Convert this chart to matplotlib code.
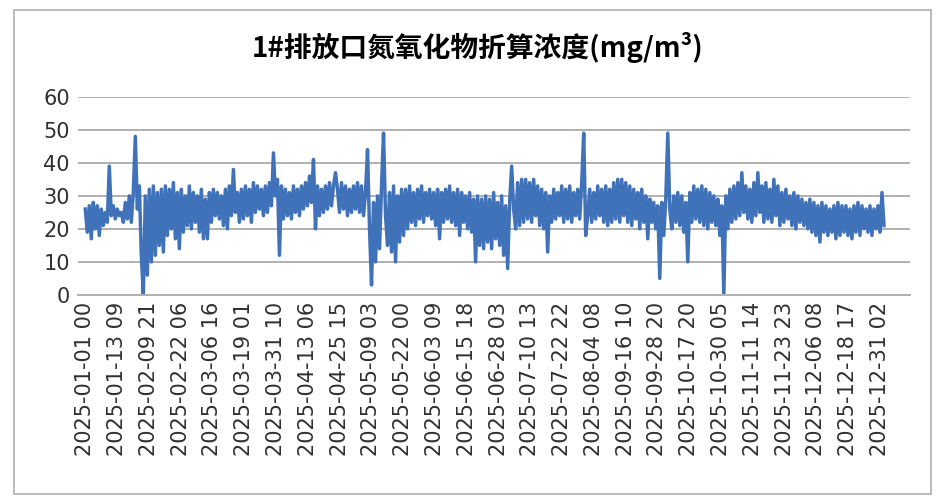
import matplotlib.pyplot as plt
from matplotlib.patches import Rectangle
import numpy as np

plt.rcParams['font.family'] = ['DejaVu Sans', 'Noto Sans CJK SC']

title = "1#排放口氮氧化物折算浓度(mg/m³)"

# hourly NOx readings (high/low swings of the dense trace)
nox = [
    26, 19, 27, 17, 28, 20, 27, 18, 26, 21, 25, 22, 39, 24, 27, 23, 26, 24, 25, 22,
    28, 23, 30, 22, 31, 48, 26, 33, 12, 0, 30, 6, 32, 10, 33, 12, 31, 15, 32, 13,
    33, 18, 32, 20, 34, 17, 31, 14, 32, 19, 30, 21, 33, 20, 31, 22, 30, 19, 32, 17,
    29, 17, 31, 22, 32, 24, 31, 23, 30, 21, 32, 20, 33, 24, 38, 25, 31, 22, 32, 23,
    33, 24, 32, 22, 34, 25, 33, 26, 32, 24, 33, 25, 34, 27, 43, 30, 35, 12, 33, 23,
    32, 24, 31, 23, 33, 25, 32, 24, 33, 26, 34, 27, 36, 28, 41, 20, 33, 24, 32, 25,
    33, 26, 34, 27, 33, 37, 32, 25, 34, 26, 33, 24, 32, 25, 33, 26, 34, 25, 33, 24,
    31, 44, 20, 3, 28, 10, 30, 14, 33, 49, 24, 15, 31, 13, 33, 10, 30, 16, 32, 18,
    32, 20, 33, 22, 31, 21, 32, 23, 33, 22, 31, 24, 32, 23, 31, 21, 32, 17, 31, 22,
    32, 23, 33, 22, 31, 21, 32, 18, 31, 22, 30, 20, 31, 19, 29, 10, 30, 15, 29, 14,
    30, 16, 29, 14, 31, 17, 28, 15, 30, 12, 27, 8, 28, 39, 26, 20, 34, 21, 35, 22,
    35, 23, 34, 22, 35, 24, 33, 21, 32, 20, 31, 13, 30, 22, 32, 23, 31, 24, 33, 22,
    32, 23, 33, 22, 31, 24, 32, 23, 34, 49, 18, 24, 32, 22, 31, 23, 33, 24, 32, 22,
    33, 21, 32, 22, 34, 23, 35, 22, 35, 24, 34, 22, 33, 21, 32, 23, 31, 20, 32, 22,
    30, 17, 29, 22, 28, 20, 27, 5, 28, 18, 29, 49, 26, 20, 30, 22, 31, 21, 30, 19,
    28, 10, 31, 22, 33, 23, 32, 22, 33, 21, 32, 20, 31, 22, 30, 21, 29, 18, 27, 0,
    30, 20, 32, 22, 33, 23, 34, 24, 37, 25, 33, 23, 32, 22, 34, 24, 37, 25, 33, 22,
    34, 23, 32, 22, 35, 24, 33, 21, 31, 22, 32, 23, 30, 21, 31, 20, 30, 22, 29, 21,
    28, 20, 29, 19, 28, 18, 27, 16, 28, 19, 27, 18, 26, 19, 27, 17, 28, 18, 27, 19,
    27, 18, 26, 17, 27, 19, 28, 18, 27, 20, 26, 19, 27, 18, 26, 20, 27, 19, 31, 21,
]

tick_labels = [
    "2025-01-01 00", "2025-01-13 09", "2025-02-09 21", "2025-02-22 06",
    "2025-03-06 16", "2025-03-19 01", "2025-03-31 10", "2025-04-13 06",
    "2025-04-25 15", "2025-05-09 03", "2025-05-22 00", "2025-06-03 09",
    "2025-06-15 18", "2025-06-28 03", "2025-07-10 13", "2025-07-22 22",
    "2025-08-04 08", "2025-09-16 10", "2025-09-28 20", "2025-10-17 20",
    "2025-10-30 05", "2025-11-11 14", "2025-11-23 23", "2025-12-06 08",
    "2025-12-18 17", "2025-12-31 02",
]

fig = plt.figure(figsize=(9.43, 4.99), dpi=100)
fig.patches.append(Rectangle((0.015, 0.01), 0.972, 0.97, transform=fig.transFigure,
                             fill=False, edgecolor='#b0b0b0', linewidth=1.2))

ax = fig.add_axes([0.083, 0.409, 0.882, 0.397])
x = np.arange(len(nox))
ax.plot(x, nox, color='#3f72b8', linewidth=2.5)

ax.set_ylim(0, 60)
ax.set_yticks(range(0, 61, 10))
ax.set_xlim(-3.5, len(nox) + 12)
ax.set_xticks(np.linspace(0, len(nox) - 3, len(tick_labels)))
ax.set_xticklabels(tick_labels, rotation=90, fontsize=15, color='#303030')
ax.tick_params(axis='y', labelsize=15, labelcolor='#303030', length=0, pad=6)
ax.tick_params(axis='x', length=0, pad=5)
ax.grid(axis='y', color='#b0b0b0', linewidth=1.4)
ax.set_axisbelow(True)
for s in ['top', 'right', 'left']:
    ax.spines[s].set_visible(False)
ax.spines['bottom'].set_color('#b0b0b0')
ax.spines['bottom'].set_linewidth(1.4)

fig.text(0.507, 0.905, title, ha='center', va='center', fontsize=20, fontweight='bold',
         family=['Noto Sans CJK SC', 'DejaVu Sans'])

fig.savefig('out.png', dpi=100)
